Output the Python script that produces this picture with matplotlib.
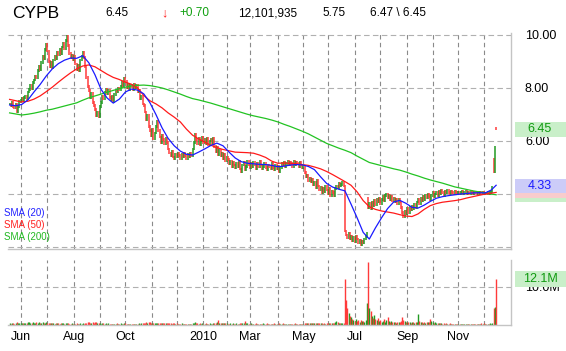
import numpy as np
import pandas as pd
import matplotlib
matplotlib.use('Agg')
import matplotlib.pyplot as plt
from matplotlib.patches import Rectangle

plt.rcParams['font.family'] = ['Liberation Sans', 'DejaVu Sans']

W, H = 566, 351

# ---------------- data ----------------
ticker = 'CYPB'
hdr_last = '6.45'
hdr_arrow = '\u2193'
hdr_change = '+0.70'
hdr_volume = '12,101,935'
hdr_prev = '5.75'
hdr_hilo = '6.47 \\ 6.45'

holidays = ['2009-05-25', '2009-07-03', '2009-09-07', '2009-11-26', '2009-12-25',
            '2010-01-01', '2010-01-18', '2010-02-15', '2010-04-02', '2010-05-31',
            '2010-07-05', '2010-09-06', '2010-11-25']

closes = [
    7.40, 7.35, 7.45, 7.30, 7.25, 7.38, 7.10, 7.30, 7.50, 7.55,
    7.60, 7.52, 7.65, 7.70, 7.58, 7.85, 7.95, 8.10, 7.98, 8.20,
    8.30, 8.45, 8.40, 8.65, 8.80, 8.70, 8.95, 9.20, 9.10, 9.45,
    9.65, 9.40, 9.00, 8.80, 8.95, 8.75, 9.05, 9.20, 9.10, 9.35,
    9.25, 9.45, 9.30, 9.55, 9.70, 9.50, 9.80, 9.95, 9.60, 9.30,
    9.15, 9.25, 9.05, 9.20, 8.90, 8.70, 8.85, 8.65, 9.05, 9.20,
    9.35, 9.15, 8.80, 8.40, 8.05, 7.90, 7.65, 7.80, 7.45, 7.35,
    7.20, 6.95, 7.10, 6.90, 7.30, 7.45, 7.70, 7.60, 7.85, 7.95,
    7.80, 7.90, 7.65, 7.55, 7.70, 7.50, 7.75, 7.90, 7.85, 8.00,
    7.95, 8.05, 8.20, 8.10, 8.35, 8.25, 8.00, 8.15, 7.95, 8.10,
    8.05, 7.95, 8.15, 8.00, 8.10, 7.85, 7.90, 7.60, 7.70, 7.40,
    7.35, 7.10, 6.80, 6.95, 6.55, 6.40, 6.20, 6.45, 6.10, 6.30,
    6.55, 6.75, 6.40, 6.15, 5.95, 6.20, 6.05, 5.90, 6.10, 5.95,
    5.70, 5.55, 5.45, 5.60, 5.40, 5.35, 5.50, 5.40, 5.55, 5.45,
    5.35, 5.50, 5.40, 5.55, 5.45, 5.35, 5.50, 5.40, 5.55, 5.45,
    5.70, 5.95, 6.25, 6.05, 5.90, 6.10, 5.85, 6.00, 6.15, 5.95,
    6.05, 5.90, 6.10, 5.85, 6.00, 6.05, 5.90, 6.10, 5.80, 5.60,
    5.75, 5.50, 5.65, 5.45, 5.55, 5.35, 5.50, 5.25, 5.40, 5.30,
    5.15, 5.25, 5.05, 5.20, 5.10, 5.00, 5.15, 5.05, 5.25, 4.95,
    4.85, 5.10, 5.20, 4.90, 5.05, 5.25, 5.10, 5.00, 5.15, 5.05,
    5.20, 5.10, 4.95, 5.15, 5.05, 5.25, 5.10, 4.95, 5.05, 5.15,
    5.00, 4.90, 5.10, 5.05, 4.95, 5.15, 5.00, 4.90, 5.10, 4.95,
    5.05, 4.85, 5.00, 5.15, 5.10, 5.20, 5.05, 5.15, 5.25, 5.10,
    5.20, 5.15, 5.05, 5.25, 5.10, 5.20, 5.15, 5.05, 5.20, 5.10,
    5.00, 5.05, 4.80, 4.65, 4.70, 4.50, 4.60, 4.45, 4.55, 4.35,
    4.45, 4.25, 4.50, 4.30, 4.15, 4.25, 4.05, 4.20, 4.10, 4.30,
    4.15, 4.00, 4.20, 3.95, 4.10, 4.05, 3.95, 4.20, 4.30, 4.25,
    4.40, 4.30, 4.35, 4.45, 4.30, 2.60, 2.45, 2.35, 2.50, 2.30,
    2.40, 2.25, 2.35, 2.20, 2.40, 2.30, 2.15, 2.25, 2.10, 2.20,
    2.15, 2.30, 2.40, 2.50, 3.50, 3.65, 3.45, 3.70, 3.55, 3.75,
    3.60, 3.80, 3.70, 3.85, 3.65, 3.80, 3.90, 3.75, 3.95, 4.00,
    3.85, 3.95, 3.80, 3.90, 3.75, 3.85, 3.70, 3.80, 3.65, 3.80,
    3.70, 3.50, 3.30, 3.15, 3.35, 3.25, 3.45, 3.30, 3.50, 3.40,
    3.55, 3.45, 3.60, 3.50, 3.70, 3.80, 3.65, 3.85, 3.75, 3.90,
    3.80, 3.95, 3.85, 4.00, 3.90, 3.80, 3.95, 4.05, 3.90, 4.00,
    4.05, 3.95, 4.10, 4.00, 4.15, 4.05, 3.95, 4.10, 4.05, 4.15,
    4.05, 4.00, 4.10, 4.05, 4.00, 4.10, 4.05, 4.00, 4.08, 4.03,
    4.05, 4.10, 4.00, 4.08, 4.12, 4.03, 4.07, 4.00, 4.10, 4.05,
    4.02, 4.08, 4.04, 4.00, 4.06, 4.03, 4.08, 4.02, 4.05, 4.00,
    4.04, 4.02, 4.06, 4.03, 4.05, 4.10, 4.25, 4.85, 5.75, 6.45,
]

# days that opened away from the previous close
gap_idx = [294, 397, 399]
gap_open = [3.85, 5.30, 6.47]

volumes_m = [
    0.4, 0.3, 0.5, 0.6, 0.3, 0.4, 0.7, 0.5, 0.6, 0.4,
    0.5, 0.4, 0.6, 0.5, 0.4, 0.7, 0.9, 0.6, 0.5, 0.8,
    0.6, 0.5, 0.7, 0.6, 0.8, 0.5, 0.6, 0.7, 0.5, 0.6,
    0.7, 0.6, 0.5, 0.4, 0.5, 0.6, 0.4, 0.3, 0.4, 0.5,
    0.4, 0.3, 0.4, 0.5, 0.4, 0.3, 0.5, 0.6, 0.4, 0.3,
    0.3, 0.4, 0.3, 0.2, 0.3, 0.4, 0.3, 0.3, 0.4, 0.3,
    0.4, 0.3, 0.5, 0.6, 0.7, 0.8, 0.6, 0.5, 0.7, 0.6,
    0.8, 0.7, 0.5, 0.6, 0.4, 0.3, 0.4, 0.5, 0.3, 0.4,
    0.3, 0.4, 0.3, 0.2, 0.3, 0.3, 0.2, 0.3, 0.4, 0.3,
    0.3, 0.4, 0.3, 0.3, 0.5, 0.4, 0.3, 0.3, 0.2, 0.3,
    0.3, 0.2, 0.3, 0.3, 0.2, 0.3, 0.4, 0.3, 0.4, 0.5,
    0.6, 0.5, 0.7, 0.6, 0.8, 0.7, 0.6, 0.5, 0.6, 0.5,
    0.5, 0.6, 0.4, 0.5, 0.4, 0.6, 0.5, 0.4, 0.5, 0.4,
    0.5, 0.4, 0.4, 0.3, 0.4, 0.5, 0.3, 0.4, 0.3, 0.3,
    0.3, 0.4, 0.3, 0.3, 0.2, 0.3, 0.3, 0.2, 0.3, 0.3,
    0.6, 0.5, 0.7, 0.4, 0.4, 0.3, 0.4, 0.3, 0.4, 0.3,
    0.3, 0.4, 0.3, 0.3, 0.4, 0.3, 0.3, 0.4, 0.5, 0.6,
    0.8, 1.4, 0.6, 0.5, 0.4, 0.5, 0.4, 0.5, 0.4, 0.3,
    0.3, 0.4, 0.3, 0.4, 0.3, 0.3, 0.4, 0.3, 0.3, 0.5,
    0.6, 0.4, 0.5, 1.0, 0.5, 0.4, 0.3, 0.3, 0.4, 0.3,
    0.3, 0.3, 0.4, 0.3, 0.3, 0.2, 0.3, 0.3, 0.4, 0.3,
    0.3, 0.4, 0.3, 0.3, 0.2, 0.3, 0.3, 0.4, 0.3, 0.3,
    0.3, 0.4, 0.3, 0.3, 0.4, 0.3, 0.2, 0.3, 0.3, 0.3,
    0.3, 0.2, 0.3, 0.3, 0.4, 0.3, 0.3, 0.2, 0.3, 0.3,
    0.3, 0.3, 0.6, 0.5, 0.4, 0.5, 0.4, 0.5, 0.4, 0.5,
    0.5, 0.4, 0.5, 0.4, 0.5, 0.4, 0.4, 0.3, 0.4, 0.3,
    0.4, 0.5, 0.4, 0.6, 0.5, 0.4, 0.6, 0.9, 1.1, 0.7,
    0.6, 0.5, 0.4, 0.5, 0.6, 12.1, 6.6, 4.4, 3.2, 2.4,
    2.0, 1.6, 1.3, 1.1, 1.5, 1.0, 1.2, 0.9, 1.4, 1.0,
    1.1, 0.9, 1.3, 5.8, 16.6, 4.6, 3.6, 2.4, 1.8, 2.6,
    1.5, 1.2, 1.9, 1.0, 1.3, 0.9, 1.1, 1.6, 0.8, 1.2,
    2.1, 1.0, 0.8, 1.1, 0.7, 0.9, 0.8, 0.6, 0.7, 0.8,
    0.9, 1.1, 2.2, 1.3, 1.0, 0.8, 0.9, 0.7, 0.8, 0.6,
    0.7, 0.8, 0.6, 0.7, 0.9, 2.9, 1.1, 0.8, 0.7, 0.6,
    0.7, 0.6, 0.8, 0.7, 0.9, 1.6, 1.0, 0.8, 0.6, 0.7,
    0.6, 0.5, 0.4, 0.5, 0.4, 0.3, 0.4, 0.3, 0.4, 0.3,
    0.3, 0.4, 0.3, 0.3, 0.2, 0.3, 0.3, 0.2, 0.3, 0.3,
    0.3, 0.2, 0.3, 0.3, 0.2, 0.3, 0.2, 0.3, 0.2, 0.3,
    0.3, 0.2, 0.3, 0.2, 0.3, 0.3, 0.2, 0.4, 0.3, 0.5,
    0.3, 0.3, 0.2, 0.3, 0.4, 0.3, 0.6, 4.4, 4.7, 12.1,
]

# moving averages, read every 5th session (last one = final session)
sma20 = [
    7.36, 7.33, 7.38, 7.55, 7.85, 8.13, 8.45, 8.72, 8.92, 9.05,
    9.13, 9.12, 9.22, 8.95, 8.50, 7.95, 7.62, 7.43, 7.58, 7.85,
    7.96, 7.92, 7.78, 7.45, 7.00, 6.50, 6.10, 5.82, 5.62, 5.50,
    5.47, 5.58, 5.70, 5.83, 5.92, 5.82, 5.58, 5.36, 5.22, 5.16,
    5.14, 5.12, 5.11, 5.08, 5.03, 5.05, 5.09, 5.11, 5.10, 5.04,
    4.92, 4.65, 4.40, 4.26, 4.18, 4.12, 3.62, 3.10, 2.55, 2.30,
    2.72, 3.10, 3.45, 3.70, 3.76, 3.65, 3.50, 3.47, 3.58, 3.72,
    3.84, 3.90, 3.94, 3.97, 4.00, 4.02, 4.04, 4.05, 4.04, 4.15,
    4.33,
]
sma50 = [
    7.57, 7.52, 7.47, 7.50, 7.58, 7.70, 7.86, 8.03, 8.22, 8.40,
    8.57, 8.72, 8.83, 8.87, 8.80, 8.66, 8.52, 8.40, 8.32, 8.22,
    8.14, 8.00, 7.72, 7.52, 7.40, 7.25, 7.06, 6.90, 6.72, 6.45,
    6.22, 6.08, 5.96, 5.84, 5.75, 5.68, 5.63, 5.58, 5.57, 5.56,
    5.54, 5.47, 5.38, 5.24, 5.16, 5.17, 5.16, 5.14, 5.11, 5.08,
    5.02, 4.95, 4.85, 4.73, 4.60, 4.47, 4.33, 4.08, 3.75, 3.52,
    3.42, 3.36, 3.32, 3.28, 3.22, 3.17, 3.15, 3.25, 3.42, 3.56,
    3.64, 3.69, 3.72, 3.75, 3.79, 3.85, 3.90, 3.95, 4.00, 4.03,
    4.06,
]
sma200 = [
    7.06, 7.02, 6.98, 7.01, 7.05, 7.10, 7.16, 7.20, 7.26, 7.32,
    7.38, 7.44, 7.54, 7.63, 7.70, 7.77, 7.84, 7.91, 7.97, 8.03,
    8.08, 8.10, 8.11, 8.09, 8.05, 8.00, 7.93, 7.85, 7.77, 7.68,
    7.60, 7.55, 7.49, 7.43, 7.36, 7.29, 7.22, 7.15, 7.08, 7.01,
    6.95, 6.90, 6.85, 6.79, 6.72, 6.63, 6.55, 6.46, 6.37, 6.27,
    6.15, 6.03, 5.91, 5.82, 5.73, 5.65, 5.56, 5.43, 5.31, 5.19,
    5.13, 5.07, 5.01, 4.95, 4.90, 4.83, 4.75, 4.68, 4.60, 4.53,
    4.47, 4.41, 4.34, 4.27, 4.22, 4.17, 4.12, 4.08, 4.04, 4.00,
    3.97,
]

month_labels = ['Jun', 'Aug', 'Oct', '2010', 'Mar', 'May', 'Jul', 'Sep', 'Nov']
month_label_keys = ['2009-06', '2009-08', '2009-10', '2010-01', '2010-03',
                    '2010-05', '2010-07', '2010-09', '2010-11']
price_ticks = [2, 4, 6, 8, 10]
price_tick_labels = ['', '4.00', '6.00', '8.00', '10.00']
vol_ticks = [10]
vol_tick_labels = ['10.0M']

# ---------------- derived ----------------
closes = np.array(closes)
n = len(closes)
vols = np.array(volumes_m[:n])
dates = pd.bdate_range('2009-05-18', periods=n, freq='C', holidays=holidays)
x = np.arange(n)
opens = np.r_[closes[0], closes[:-1]].astype(float)
for gi, go in zip(gap_idx, gap_open):
    opens[gi] = go

UP, DOWN = '#229a22', '#ff3a3a'
colors = np.where(closes >= opens, UP, DOWN)
lo = np.minimum(opens, closes) - 0.05
hi = np.maximum(opens, closes) + 0.05

sma_x = np.r_[np.arange(0, n, 5), n - 1]

periods = dates.to_period('M')
month_start = {}
for i, p in enumerate(periods):
    if i == 0 or p != periods[i - 1]:
        month_start[str(p)] = i
grid_months = [k for k in month_start if k >= '2009-06']

# ---------------- figure ----------------
fig = plt.figure(figsize=(W / 100, H / 100), dpi=100)
fig.patch.set_facecolor('white')


def rect(l, t, r, b):
    return [l / W, 1 - b / H, (r - l) / W, (b - t) / H]


axp = fig.add_axes(rect(8, 33, 511, 249))
axv = fig.add_axes(rect(8, 260, 511, 325), sharex=axp)

XL = (-1.31, 411.2)
axp.set_xlim(*XL)
axp.set_ylim(1.925, 10.075)
axv.set_ylim(0, 17.1)

for ax in (axp, axv):
    for s in ('top', 'left'):
        ax.spines[s].set_visible(False)
    for s in ('right', 'bottom'):
        ax.spines[s].set_color('#c4c4c4')
        ax.spines[s].set_linewidth(1.0)
    for k in grid_months:
        ax.axvline(month_start[k], color='#8a8a8a', lw=0.8, ls=(0, (4, 3)), zorder=0)

for t in price_ticks:
    axp.axhline(t, color='#b0b0b0', lw=0.8, ls=(0, (5, 3)), zorder=0)
for t in vol_ticks:
    axv.axhline(t, color='#b0b0b0', lw=0.8, ls=(0, (5, 3)), zorder=0)

# price bars
axp.vlines(x, lo, hi, colors=colors, lw=1.1, zorder=2)
# moving averages
axp.plot(sma_x, sma200, color='#22c322', lw=0.9, zorder=3)
axp.plot(sma_x, sma50, color='#ff1a1a', lw=0.9, zorder=3)
axp.plot(sma_x, sma20, color='#1a1aff', lw=0.9, zorder=4)

# volume
axv.vlines(x, 0, vols, colors=colors, lw=1.0, zorder=2)

# ticks
axp.yaxis.tick_right()
axp.set_yticks(price_ticks)
axp.set_yticklabels(price_tick_labels)
axp.tick_params(axis='y', length=0, pad=10, labelsize=9)
axp.tick_params(axis='x', length=0, labelbottom=False)

axv.yaxis.tick_right()
axv.set_yticks(vol_ticks)
axv.set_yticklabels(vol_tick_labels)
axv.tick_params(axis='y', length=0, pad=10, labelsize=9)
axv.set_xticks([month_start[k] for k in month_label_keys])
axv.set_xticklabels(month_labels)
axv.tick_params(axis='x', length=0, pad=4, labelsize=9)


def ftext(px, py, s, **kw):
    return fig.text(px / W, 1 - py / H, s, va='center', **kw)


# header
ftext(12, 13, ticker, fontsize=12.5)
ftext(105, 13, hdr_last, fontsize=8.5)
ftext(161, 13, hdr_arrow, fontsize=9, color='#ff2020')
ftext(179, 13, hdr_change, fontsize=8.5, color='#10a010')
ftext(238, 13, hdr_volume, fontsize=8.5)
ftext(322, 13, hdr_prev, fontsize=8.5)
ftext(370, 13, hdr_hilo, fontsize=8.5)

# legend
ftext(4, 212.5, 'SMA (20)', fontsize=7, color='#2020ff')
ftext(4, 224.5, 'SMA (50)', fontsize=7, color='#ff2020')
ftext(4, 237, 'SMA (200)', fontsize=7, color='#20b820')


def label_box(top, bottom, text, fc, tc, z, size=9):
    r = Rectangle((515 / W, 1 - bottom / H), 51 / W, (bottom - top) / H,
                  transform=fig.transFigure, fc=fc, ec='none', zorder=z)
    fig.add_artist(r)
    t = fig.text(540 / W, 1 - (top + bottom) / 2 / H, text, ha='center', va='center',
                 fontsize=size, color=tc, zorder=z + 0.5)
    return r, t


label_box(122, 137, f'{closes[-1]:.2f}', '#c9efc9', '#109a10', 5)
label_box(188, 202, '', '#c9efc9', '#109a10', 5)
r50, t50 = label_box(184, 198, f'{sma50[-1]:.2f}', '#f8cccc', '#ff2020', 6, size=6)
t50.set_clip_path(r50)
label_box(179, 193, f'{sma20[-1]:.2f}', '#ccccf8', '#1a1aff', 7)
label_box(271, 287, f'{vols[-1]:.1f}M', '#c9efc9', '#109a10', 5)

fig.savefig('out.png', dpi=100)
